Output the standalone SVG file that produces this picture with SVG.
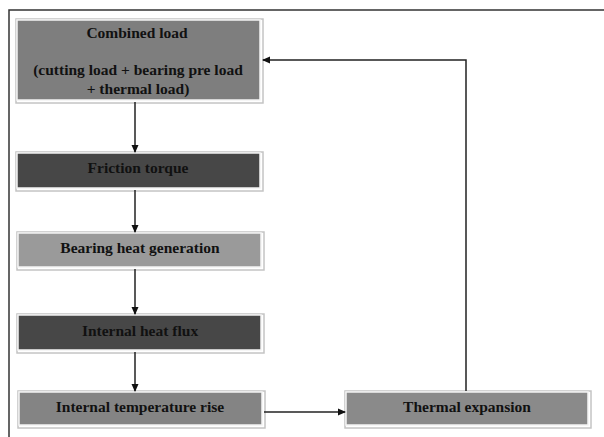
<svg xmlns="http://www.w3.org/2000/svg" width="604" height="437" viewBox="0 0 604 437">
<style>
.shadow{fill:none;stroke:#c4c4c4;stroke-width:1.5}
.box{stroke:#f4f4f4;stroke-width:1.5}
.t{font-family:"Liberation Serif",serif;font-weight:bold;font-size:15.5px;fill:#111;text-anchor:middle}
.c{fill:none;stroke:#222;stroke-width:1.5}
</style>
<defs>
<marker id="ah" markerWidth="8" markerHeight="8" refX="7" refY="4" orient="auto" markerUnits="userSpaceOnUse">
<path d="M0,0.5 L8,4 L0,7.5 Z" fill="#111"/>
</marker>
</defs>
<rect width="604" height="437" fill="#fff"/>
<path d="M9,437 V10 H604" fill="none" stroke="#333" stroke-width="1.5"/>
<g id="n1">
<rect class="shadow" x="16" y="19" width="247" height="84"/>
<rect class="box" x="17" y="20" width="243" height="80" fill="#7e7e7e"/>
<text class="t" x="137" y="38">Combined load</text>
<text class="t" x="138" y="75">(cutting load + bearing pre load</text>
<text class="t" x="138" y="94">+ thermal load)</text>
</g>
<g id="n2">
<rect class="shadow" x="16" y="152" width="247" height="39"/>
<rect class="box" x="17" y="153" width="243" height="35" fill="#474747"/>
<text class="t" x="138" y="173">Friction torque</text>
</g>
<g id="n3">
<rect class="shadow" x="17" y="232" width="247" height="38"/>
<rect class="box" x="18" y="233" width="243" height="34" fill="#9a9a9a"/>
<text class="t" x="140" y="253">Bearing heat generation</text>
</g>
<g id="n4">
<rect class="shadow" x="17" y="314" width="247" height="39"/>
<rect class="box" x="18" y="315" width="243" height="35" fill="#474747"/>
<text class="t" x="140" y="336">Internal heat flux</text>
</g>
<g id="n5">
<rect class="shadow" x="18" y="391" width="247" height="37"/>
<rect class="box" x="19" y="392" width="243" height="33" fill="#848484"/>
<text class="t" x="140" y="412">Internal temperature rise</text>
</g>
<g id="n6">
<rect class="shadow" x="345" y="391" width="246" height="37"/>
<rect class="box" x="346" y="392" width="242" height="33" fill="#8a8a8a"/>
<text class="t" x="467" y="412">Thermal expansion</text>
</g>
<g id="connectors">
<line class="c" x1="135" y1="102" x2="135" y2="152" marker-end="url(#ah)"/>
<line class="c" x1="135" y1="190" x2="135" y2="232" marker-end="url(#ah)"/>
<line class="c" x1="135" y1="269" x2="135" y2="314" marker-end="url(#ah)"/>
<line class="c" x1="135" y1="352" x2="135" y2="391" marker-end="url(#ah)"/>
<line class="c" x1="264" y1="412" x2="345" y2="412" marker-end="url(#ah)"/>
<polyline class="c" points="466,391 466,60 263,60" marker-end="url(#ah)"/>
</g>
</svg>
